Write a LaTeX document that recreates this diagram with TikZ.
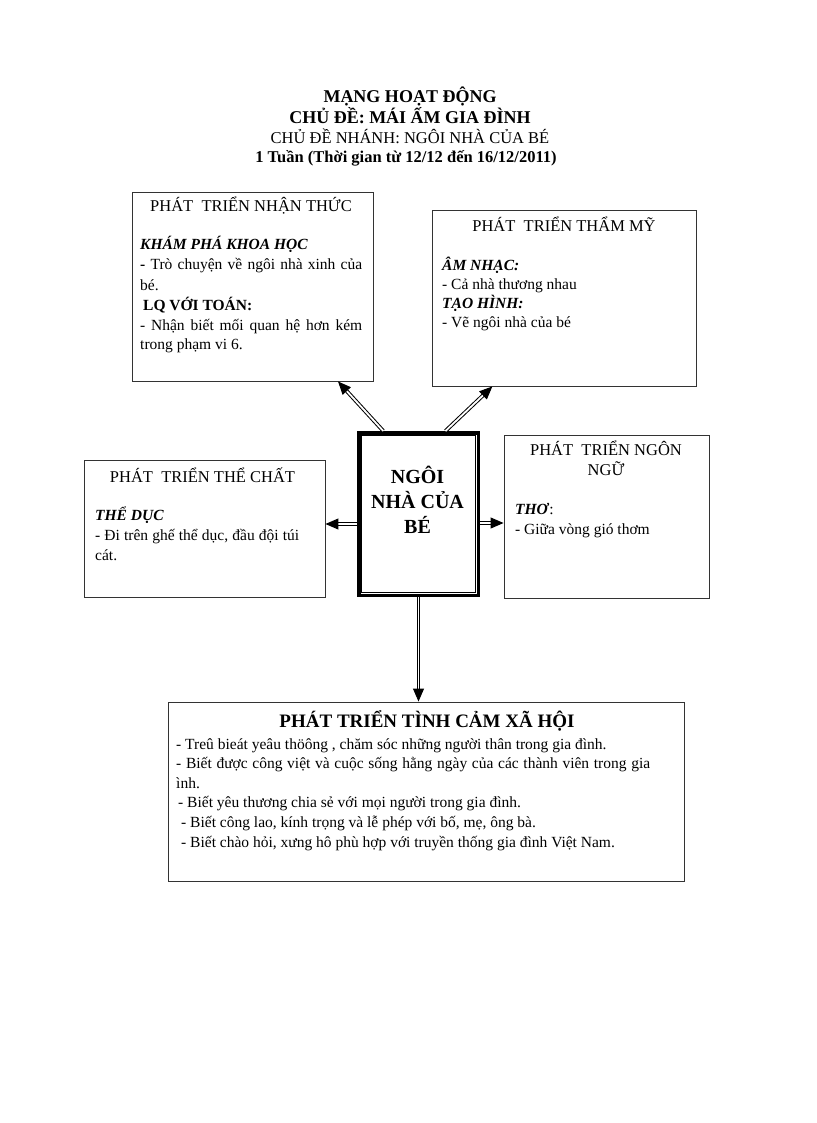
\documentclass[tikz,border=0pt]{standalone}
\usepackage{fontspec}
\setmainfont{Liberation Serif}
\usetikzlibrary{arrows.meta}

\tikzset{
  box/.style={draw=black!80,line width=.9pt,inner sep=0pt},
  head/.style={anchor=base,inner sep=0pt,align=center,font=\fontsize{16.5}{20}\selectfont},
  body/.style={anchor=base west,inner sep=0pt,align=justify,font=\fontsize{15.5}{20}\selectfont},
  arr/.style={draw,double,double distance=1.8pt,line width=1pt,-{Triangle[length=13pt,width=11pt]}}
}

\begin{document}
\begin{tikzpicture}[x=1pt,y=-1pt]
  \useasboundingbox (0,0) rectangle (816,1123);
  % tieu de
  \node[anchor=base,inner sep=0pt,font=\fontsize{18}{20}\selectfont\bfseries] (title1) at (410,103) {MẠNG HOẠT ĐỘNG};
  \node[anchor=base,inner sep=0pt,font=\fontsize{18}{20}\selectfont\bfseries] (title2) at (410,124) {CHỦ ĐỀ: MÁI ẤM GIA ĐÌNH};
  \node[anchor=base,inner sep=0pt,font=\fontsize{16.5}{20}\selectfont] (title3) at (410,144) {CHỦ ĐỀ NHÁNH: NGÔI NHÀ CỦA BÉ};
  \node[anchor=base,inner sep=0pt,font=\fontsize{16.5}{20}\selectfont\bfseries] (title4) at (406,163) {1 Tuần (Thời gian từ 12/12 đến 16/12/2011)};

  % o giua
  \node[draw,line width=3.5pt,minimum width=119.5pt,minimum height=162.5pt,inner sep=0pt] (center) at (418.5,514) {};
  \draw[line width=.9pt] ([shift={(4.5pt,-4.5pt)}]center.north west) rectangle ([shift={(-4.5pt,4.5pt)}]center.south east);
  \node[anchor=base,inner sep=0pt,align=center,font=\fontsize{20}{24.7}\selectfont\bfseries] (centertxt) at (417.5,533) {NGÔI\\NHÀ CỦA\\BÉ};

  % cac linh vuc
  \node[box,minimum width=241pt,minimum height=189pt] (nhanthuc) at (252.5,286.5) {};
  \node[head] (nhanthuchd) at (251,212) {PHÁT\ \ TRIỂN NHẬN THỨC};
  \node[body,text width=222pt] (nhanthucbd) at (140,250) {\textbf{\textit{KHÁM PHÁ KHOA HỌC}}\\
    \textbf{-} Trò chuyện về ngôi nhà xinh của\linebreak bé.\\
    \hspace*{3pt}\textbf{LQ VỚI TOÁN:}\\
    - Nhận biết mối quan hệ hơn kém\linebreak trong phạm vi 6.};

  \node[box,minimum width=264pt,minimum height=176pt] (thammy) at (564,298) {};
  \node[head] (thammyhd) at (564,232) {PHÁT\ \ TRIỂN THẨM MỸ};
  \node[body,text width=240pt,font=\fontsize{15.5}{19}\selectfont] (thammybd) at (442,270) {\textbf{\textit{ÂM NHẠC:}}\\
    - Cả nhà thương nhau\\
    \textbf{\textit{TẠO HÌNH:}}\\
    - Vẽ ngôi nhà của bé};

  \node[box,minimum width=241pt,minimum height=137pt] (thechat) at (204.5,528.5) {};
  \node[head] (thechathd) at (202.5,482) {PHÁT\ \ TRIỂN THỂ CHẤT};
  \node[body,text width=204pt] (thechatbd) at (95,520) {\textbf{\textit{THỂ DỤC}}\\
    - Đi trên ghế thể dục, đầu đội túi\linebreak cát.};

  \node[box,minimum width=205pt,minimum height=163pt] (ngonngu) at (606.5,516.5) {};
  \node[head] (ngonnguhd) at (606,475) {PHÁT\ \ TRIỂN NGÔN\\NGỮ};
  \node[body,text width=185pt] (ngonngubd) at (515,514) {\textbf{\textit{THƠ}}:\\
    - Giữa vòng gió thơm};

  \node[box,minimum width=516pt,minimum height=179pt] (tinhcam) at (426,791.5) {};
  \node[head,font=\fontsize{19}{22}\selectfont\bfseries] (tinhcamhd) at (427,727) {PHÁT TRIỂN TÌNH CẢM XÃ HỘI};
  \node[body,text width=474pt,font=\fontsize{15.5}{19.6}\selectfont] (tinhcambd) at (176,749) {- Treû bieát yeâu thöông , chăm sóc những người thân trong gia đình.\\
    - Biết được công việt và cuộc sống hằng ngày của các thành viên trong gia\linebreak ình.\\
    \hspace*{2pt}- Biết yêu thương chia sẻ với mọi người trong gia đình.\\
    \hspace*{5pt}- Biết công lao, kính trọng và lễ phép với bố, mẹ, ông bà.\\
    \hspace*{5pt}- Biết chào hỏi, xưng hô phù hợp với truyền thống gia đình Việt Nam.};

  % mui ten
  \draw[arr] (center.113.4) -- (nhanthuc.-48.2);
  \draw[arr] (center.72.1) -- (thammy.-129.4);
  \draw[arr] ([yshift=-10pt]center.west) -- ([yshift=-10pt]center.west -| thechat.east);
  \draw[arr] ([yshift=-9pt]center.east) -- ([yshift=-9pt]center.east -| ngonngu.west);
  \draw[arr] (center.south) -- (center.south |- tinhcam.north);
\end{tikzpicture}
\end{document}
